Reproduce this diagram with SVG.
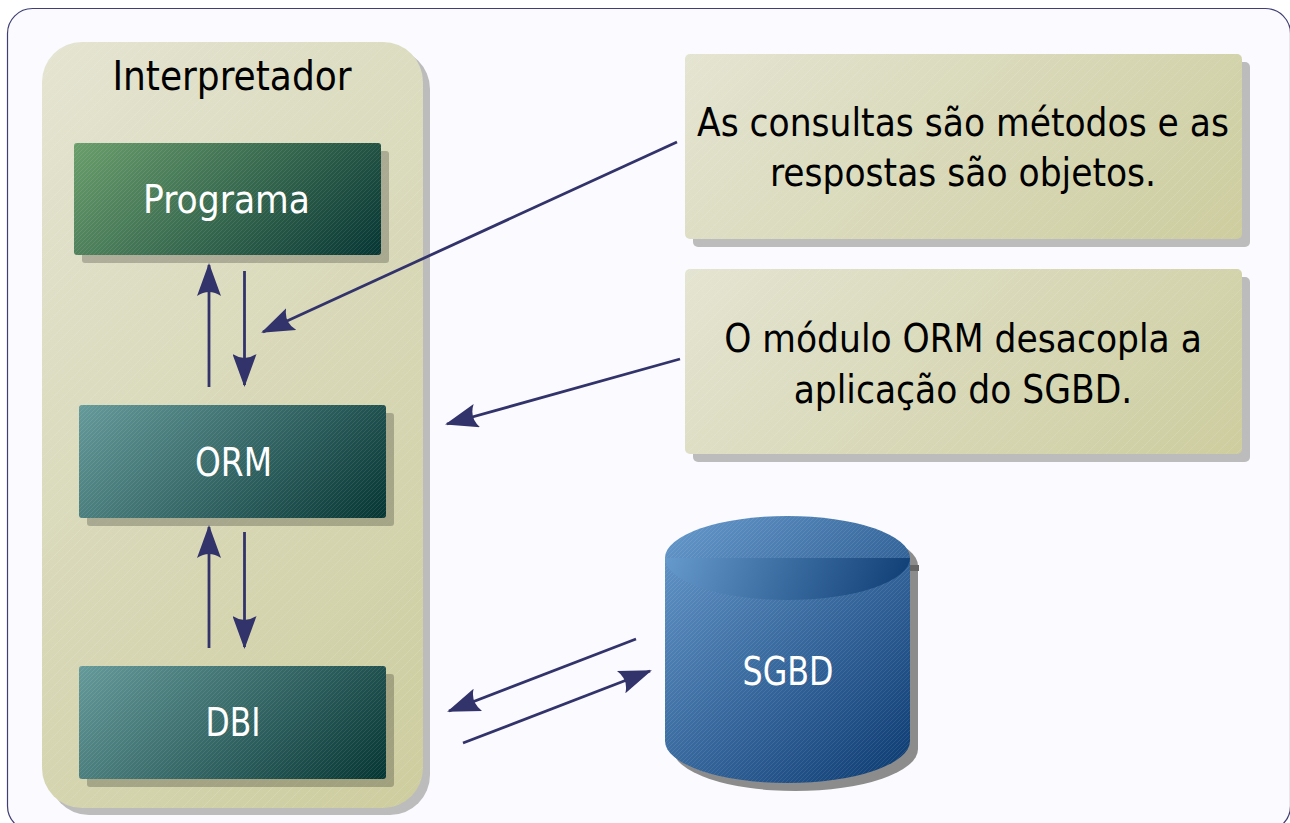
<svg xmlns="http://www.w3.org/2000/svg" width="1290" height="823" viewBox="0 0 1290 823">
<style>
text{font-family:"DejaVu Sans Condensed","DejaVu Sans",sans-serif;text-anchor:middle}
.d{fill:#000;font-size:38.4px}
.w{fill:#fff;font-size:38.4px}
.s{fill:#000;fill-opacity:.22}
.o{fill:#bcbcbc}
.c{fill:none;stroke:#33336b;stroke-width:2.8}
.h{fill:#33336b}
</style>
<defs>
<linearGradient id="k"><stop offset="0" stop-color="#e4e4d2"/><stop offset="1" stop-color="#cdcd9f"/></linearGradient>
<linearGradient id="g"><stop offset="0" stop-color="#6a9e6b"/><stop offset="1" stop-color="#063634"/></linearGradient>
<linearGradient id="t"><stop offset="0" stop-color="#659a9a"/><stop offset="1" stop-color="#063634"/></linearGradient>
<linearGradient id="b"><stop offset="0" stop-color="#6699cc"/><stop offset="1" stop-color="#0b3a70"/></linearGradient>
<linearGradient id="g1" href="#g" gradientUnits="userSpaceOnUse" x1="74" y1="143" x2="283.500" y2="352.500"/>
<linearGradient id="t1" href="#t" gradientUnits="userSpaceOnUse" x1="79" y1="405" x2="289" y2="615"/>
<linearGradient id="t2" href="#t" gradientUnits="userSpaceOnUse" x1="79" y1="666" x2="289" y2="876"/>
<linearGradient id="k0" href="#k" gradientUnits="userSpaceOnUse" x1="42" y1="42" x2="615.500" y2="615.500"/>
<linearGradient id="k1" href="#k" gradientUnits="userSpaceOnUse" x1="685" y1="54" x2="1056" y2="425"/>
<linearGradient id="k2" href="#k" gradientUnits="userSpaceOnUse" x1="685" y1="269" x2="1056" y2="640"/>
<linearGradient id="b1" href="#b" gradientUnits="userSpaceOnUse" x1="665" y1="516" x2="921" y2="772"/>
<linearGradient id="b2" href="#b" gradientUnits="userSpaceOnUse" x1="665" y1="558" x2="895" y2="650"/>
<pattern id="hw" width="10" height="10" patternUnits="userSpaceOnUse"><path d="M-2 12L12 -2M-2 2L2 -2M8 12L12 8" stroke="#fff" stroke-opacity=".15" stroke-width=".7"/></pattern>
<pattern id="hn" width="4" height="4" patternUnits="userSpaceOnUse"><path d="M-1 5L5 -1M-1 1L1 -1M3 5L5 3" stroke="#fff" stroke-opacity=".13" stroke-width=".7"/></pattern>
<marker id="a" viewBox="0 0 33 24" markerWidth="33" markerHeight="24" markerUnits="userSpaceOnUse" refX="31" refY="12" orient="auto"><path class="h" d="M33 12L0 0Q8 12 0 24Z"/></marker>
</defs>
<rect id="frame" x="7.500" y="8.500" width="1283" height="822.500" rx="25" fill="#fafaff" stroke="#3f3f75" stroke-width="1.200"/>
<g id="interpretador">
<rect class="o" x="49" y="49" width="381" height="766" rx="40"/>
<rect x="42" y="42" width="381" height="766" rx="40" fill="url(#k0)"/>
<rect x="42" y="42" width="381" height="766" rx="40" fill="url(#hw)"/>
<text class="d" x="232" y="90" style="font-size:40px">Interpretador</text>
</g>
<g id="programa">
<rect class="s" x="82" y="151" width="307" height="112" rx="3"/>
<rect x="74" y="143" width="307" height="112" rx="3" fill="url(#g1)"/>
<rect x="74" y="143" width="307" height="112" rx="3" fill="url(#hn)"/>
<text class="w" x="226.500" y="213" textLength="167" lengthAdjust="spacingAndGlyphs">Programa</text>
</g>
<g id="orm">
<rect class="s" x="87" y="413" width="307" height="113" rx="3"/>
<rect x="79" y="405" width="307" height="113" rx="3" fill="url(#t1)"/>
<rect x="79" y="405" width="307" height="113" rx="3" fill="url(#hn)"/>
<text class="w" x="233.500" y="476" textLength="77" lengthAdjust="spacingAndGlyphs">ORM</text>
</g>
<g id="dbi">
<rect class="s" x="87" y="674" width="307" height="113" rx="3"/>
<rect x="79" y="666" width="307" height="113" rx="3" fill="url(#t2)"/>
<rect x="79" y="666" width="307" height="113" rx="3" fill="url(#hn)"/>
<text class="w" x="233" y="736" textLength="55" lengthAdjust="spacingAndGlyphs">DBI</text>
</g>
<g id="nota1">
<rect class="o" x="693" y="62" width="557" height="185" rx="5"/>
<rect x="685" y="54" width="557" height="185" rx="5" fill="url(#k1)"/>
<rect x="685" y="54" width="557" height="185" rx="5" fill="url(#hw)"/>
<text class="d" x="963" y="136">As consultas são métodos e as</text>
<text class="d" x="963" y="186">respostas são objetos.</text>
</g>
<g id="nota2">
<rect class="o" x="693" y="277" width="557" height="185" rx="5"/>
<rect x="685" y="269" width="557" height="185" rx="5" fill="url(#k2)"/>
<rect x="685" y="269" width="557" height="185" rx="5" fill="url(#hw)"/>
<text class="d" x="963" y="352">O módulo ORM desacopla a</text>
<text class="d" x="963" y="403">aplicação do SGBD.</text>
</g>
<g id="sgbd">
<path fill="#8c8c8c" d="M673 566A122.500 42 0 0 1 918 566V749A122.500 42 0 0 1 673 749Z"/>
<rect x="908" y="565" width="11" height="6" fill="#666"/>
<path fill="url(#b1)" d="M665 558A122.500 42 0 0 1 910 558V741A122.500 42 0 0 1 665 741Z"/>
<path fill="url(#hn)" d="M665 558A122.500 42 0 0 1 910 558V741A122.500 42 0 0 1 665 741Z"/>
<path fill="url(#b2)" d="M665 558H910A122.500 42 0 0 1 665 558Z"/>
<text class="w" x="788" y="685" textLength="91" lengthAdjust="spacingAndGlyphs">SGBD</text>
</g>
<g id="connectors">
<line class="c" x1="209" y1="387" x2="209" y2="265" marker-end="url(#a)"/>
<line class="c" x1="244.500" y1="271" x2="244.500" y2="385" marker-end="url(#a)"/>
<line class="c" x1="209" y1="648" x2="209" y2="527" marker-end="url(#a)"/>
<line class="c" x1="244.500" y1="532" x2="244.500" y2="647" marker-end="url(#a)"/>
<line class="c" x1="677" y1="142" x2="263" y2="332" marker-end="url(#a)"/>
<line class="c" x1="680" y1="359" x2="447" y2="424" marker-end="url(#a)"/>
<line class="c" x1="636" y1="639" x2="449" y2="711" marker-end="url(#a)"/>
<line class="c" x1="463" y1="743" x2="650" y2="671" marker-end="url(#a)"/>
</g>
</svg>
